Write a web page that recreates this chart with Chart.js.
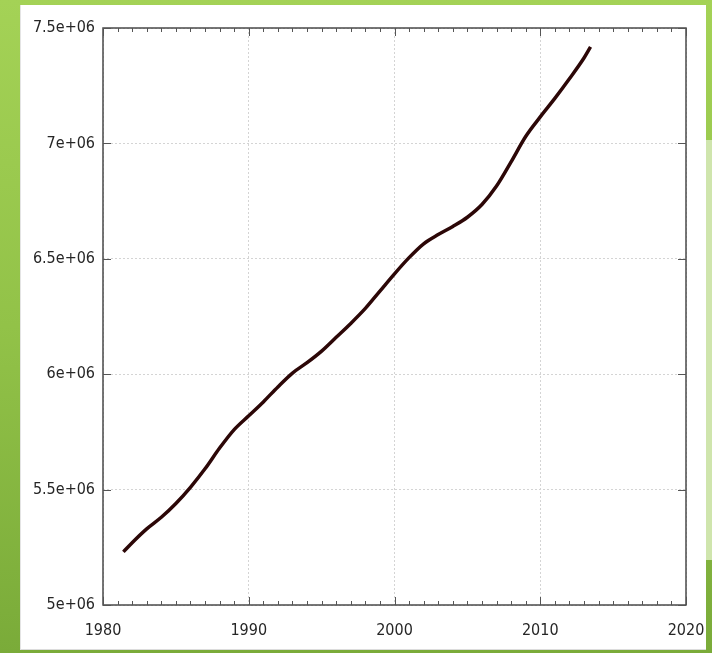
<!DOCTYPE html>
<html>
<head>
<meta charset="utf-8">
<script src="https://cdn.jsdelivr.net/npm/chart.js@4"></script>
<style>
    html, body {
        margin: 0;
        padding: 0;
    }
    body {
        width: 712px;
        height: 653px;
        position: relative;
        overflow: hidden;
        background: linear-gradient(180deg, #a4d256 0%, #92c248 50%, #7aab39 100%);
    }
    .panel {
        position: absolute;
        left: 20px;
        top: 5px;
        width: 686px;
        height: 645px;
        background: #fff;
        border-bottom: 1px solid #dcdcdc;
        border-left: 1px solid #e4e4e4;
        box-sizing: border-box;
    }
    .strip {
        position: absolute;
        left: 706px;
        top: 140px;
        width: 6px;
        height: 420px;
        background: #cfe5ad;
    }
    #popChart {
        position: absolute;
        left: 0;
        top: 0;
    }
</style>
</head>
<body>
<div class="panel"></div>
<div class="strip"></div>
<canvas id="popChart" width="712" height="653"></canvas>

<script>
// ===============================
// DATA
// ===============================

const years = [
    1981.4, 1982, 1983, 1984, 1985, 1986, 1987, 1988, 1989, 1990,
    1991, 1992, 1993, 1994, 1995, 1996, 1997, 1998, 1999, 2000,
    2001, 2002, 2003, 2004, 2005, 2006, 2007, 2008, 2009, 2010,
    2011, 2012, 2013, 2013.45
];

const population = [
    5230000, 5270000, 5330000, 5380000, 5440000, 5510000, 5590000, 5680000, 5760000, 5820000,
    5880000, 5945000, 6005000, 6050000, 6100000, 6160000, 6220000, 6285000, 6360000, 6435000,
    6505000, 6565000, 6605000, 6640000, 6680000, 6735000, 6815000, 6920000, 7030000, 7115000,
    7195000, 7280000, 7370000, 7418000
];

const xTicks = [1980, 1990, 2000, 2010, 2020];
const yTicks = [5000000, 5500000, 6000000, 6500000, 7000000, 7500000];

// ===============================
// HELPERS
// ===============================

function expLabel(v) {
    // 7500000 -> "7.5e+06"
    const parts = Number(v).toExponential().split('e');
    let exp = parts[1];
    const sign = exp[0] === '-' ? '-' : '+';
    exp = exp.replace('+', '').replace('-', '');
    if (exp.length < 2) exp = '0' + exp;
    return parts[0] + 'e' + sign + exp;
}

const labelFont = {
    family: "'DejaVu Sans Condensed', 'DejaVu Sans', sans-serif",
    size: 16
};

// frame + inward tick marks, gnuplot style
const frameTicks = {
    id: 'frameTicks',
    afterDraw(chart) {
        const ctx = chart.ctx;
        const a = chart.chartArea;
        const xs = chart.scales.x;
        const ys = chart.scales.y;

        ctx.save();
        ctx.strokeStyle = '#4a4a4a';
        ctx.lineWidth = 1.5;
        ctx.strokeRect(a.left, a.top, a.right - a.left, a.bottom - a.top);

        ctx.lineWidth = 1;
        ctx.strokeStyle = '#555';
        ctx.beginPath();
        for (let yr = xTicks[0]; yr <= xTicks[xTicks.length - 1]; yr++) {
            const px = Math.round(xs.getPixelForValue(yr)) + 0.5;
            const len = xTicks.includes(yr) ? 8 : 4;
            ctx.moveTo(px, a.bottom);
            ctx.lineTo(px, a.bottom - len);
            ctx.moveTo(px, a.top);
            ctx.lineTo(px, a.top + len);
        }
        yTicks.forEach(v => {
            const py = Math.round(ys.getPixelForValue(v)) + 0.5;
            ctx.moveTo(a.left, py);
            ctx.lineTo(a.left + 8, py);
            ctx.moveTo(a.right, py);
            ctx.lineTo(a.right - 8, py);
        });
        ctx.stroke();
        ctx.restore();
    }
};

// ===============================
// CHART
// ===============================

const popCtx = document.getElementById('popChart');

new Chart(popCtx, {
    type: 'line',
    data: {
        datasets: [{
            data: years.map((yr, i) => ({ x: yr, y: population[i] })),
            borderColor: '#2c0707',
            borderWidth: 3.5,
            pointRadius: 0,
            fill: false,
            cubicInterpolationMode: 'monotone'
        }]
    },
    options: {
        responsive: false,
        animation: false,
        layout: {
            padding: { left: 0, top: 28, right: 26, bottom: 0 }
        },
        plugins: {
            legend: { display: false },
            tooltip: { enabled: false }
        },
        scales: {
            x: {
                type: 'linear',
                min: xTicks[0],
                max: xTicks[xTicks.length - 1],
                afterFit: s => {
                    s.height = 48;
                    s.paddingLeft = 0;
                    s.paddingRight = 0;
                },
                afterBuildTicks: s => { s.ticks = xTicks.map(v => ({ value: v })); },
                ticks: {
                    padding: 16,
                    color: '#262626',
                    font: labelFont,
                    maxRotation: 0,
                    callback: v => String(v)
                },
                grid: {
                    color: '#d4d4d4',
                    lineWidth: 1,
                    drawTicks: false
                },
                border: {
                    display: false,
                    dash: [2, 2]
                }
            },
            y: {
                min: yTicks[0],
                max: yTicks[yTicks.length - 1],
                afterFit: s => {
                    s.width = 103;
                    s.paddingTop = 0;
                    s.paddingBottom = 0;
                },
                afterBuildTicks: s => { s.ticks = yTicks.map(v => ({ value: v })); },
                ticks: {
                    padding: 8,
                    color: '#262626',
                    font: labelFont,
                    callback: v => expLabel(v)
                },
                grid: {
                    color: '#d4d4d4',
                    lineWidth: 1,
                    drawTicks: false
                },
                border: {
                    display: false,
                    dash: [2, 2]
                }
            }
        }
    },
    plugins: [frameTicks]
});
</script>
</body>
</html>
